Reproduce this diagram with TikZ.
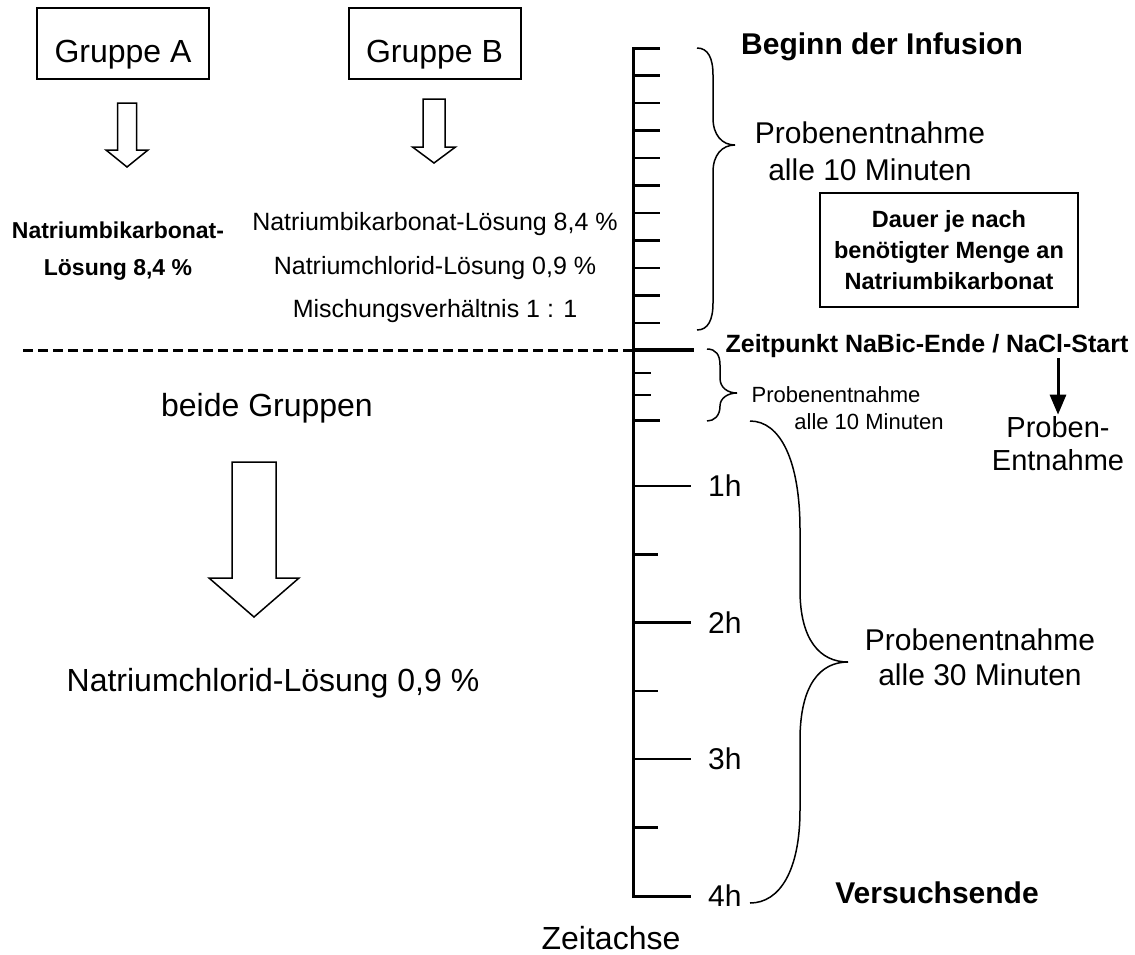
\documentclass[tikz,border=0pt]{standalone}
\usepackage{fontspec}
\setmainfont{Liberation Sans}
\usetikzlibrary{arrows.meta}

\tikzset{
  pics/hohlpfeil/.style args={#1/#2/#3/#4}{code={
    \draw[line width=1.5pt, line join=miter] (-#1,0) -- (#1,0) -- (#1,#3) -- (#2,#3) -- (0,#4) -- (-#2,#3) -- (-#1,#3) -- cycle;}}
}

\begin{document}
\begin{tikzpicture}[x=1pt, y=-1pt,
    gruppe/.style={draw, line width=2pt, minimum width=172pt, minimum height=71pt, text height=37pt, text depth=0pt, inner sep=0pt, font=\fontsize{32}{38}\selectfont},
    kasten/.style={draw, line width=2pt, minimum width=258pt, minimum height=114pt, align=center, inner sep=0pt, font=\bfseries\fontsize{23.5}{31}\selectfont},
    gross/.style={inner sep=0pt, align=center, font=\fontsize{32}{38}\selectfont},
    mittel/.style={inner sep=0pt, align=center, font=\fontsize{30}{36}\selectfont},
    klein/.style={inner sep=0pt, font=\fontsize{22}{26}\selectfont},
    fett/.style={inner sep=0pt, font=\bfseries\fontsize{30}{36}\selectfont},
    achse/.style={line width=3pt, line join=miter},
    strich/.style={line width=2.5pt},
    klammer/.style={line width=1.5pt},
    gestrichelt/.style={line width=3pt, dash pattern=on 10pt off 5pt},
    pfeil/.style={line width=3pt, -{Triangle[width=16pt, length=20pt]}}]
  \useasboundingbox (0,0) rectangle (1135,954);

  \node[gruppe] (grA) at (123,43.5) {Gruppe A};
  \node[gruppe] (grB) at (434.5,43.5) {Gruppe B};
  \pic at (127,103) {hohlpfeil=9.5/21/47/64};
  \pic at (434,99) {hohlpfeil=11/21.5/48/64};
  \node[inner sep=0pt, align=center, font=\bfseries\fontsize{23}{37}\selectfont] (lsgA) at (118,251) {Natriumbikarbonat-\\Lösung 8,4 \%};
  \node[inner sep=0pt, align=center, font=\fontsize{25}{43.5}\selectfont] (lsgB) at (435,268) {Natriumbikarbonat-Lösung 8,4 \%\\Natriumchlorid-Lösung 0,9 \%\\Mischungsverhältnis 1 : 1};

  \draw[achse] (660,48) -- (633,48) coordinate (anfang) -- (633,896) coordinate (ende) -- (691,896);
  \foreach \i in {1,...,10}
    \draw[strich] (633,{48+27.5*\i}) -- ++(27,0);
  \draw[strich, line width=4pt] (633,350) -- (694,350);
  \foreach \y in {373,395}
    \draw[strich, line width=2pt] (633,\y) -- (651,\y);
  \draw[strich, line width=3pt] (633,420) -- (660,420);
  \foreach \y/\n in {486/1, 622.6/2, 759.2/3}
    \draw[strich] (633,\y) -- (691,\y);
  \foreach \y in {554.3, 690.9, 827.5}
    \draw[strich] (633,\y) -- (658,\y);
  \foreach \y/\n in {486/1, 622.6/2, 759.2/3, 896/4}
    \node[mittel, anchor=west] (h\n) at (708,\y) {\n h};

  \coordinate (linie) at (23,350);
  \draw[gestrichelt] (linie) -- (linie -| anfang);

  \node[gross] (beide) at (267,408) {beide Gruppen};
  \pic at (254,462) {hohlpfeil=22/45/116/155};
  \node[gross] (nacl) at (273,683) {Natriumchlorid-Lösung 0,9 \%};
  \node[gross] (zeitachse) at (611,938) {Zeitachse};

  \node[fett] (beginn) at (882,47) {Beginn der Infusion};
  \draw[klammer] (697,48) .. controls (708,48) and (713,58) .. (713,75) -- (713,118)
    .. controls (713,135) and (722,145) .. (735,145) .. controls (722,145) and (713,155) .. (713,172)
    -- (713,303) .. controls (713,320) and (708,330) .. (697,330);
  \node[mittel, font=\fontsize{30}{37}\selectfont] (probe10) at (870,151) {Probenentnahme\\alle 10 Minuten};
  \node[kasten] (dauer) at (949,250) {Dauer je nach\\benötigter Menge an\\Natriumbikarbonat};

  \node[inner sep=0pt, font=\bfseries\fontsize{25}{30}\selectfont] (zeit) at (927,346) {Zeitpunkt NaBic-Ende / NaCl-Start};
  \draw[klammer] (707,349) .. controls (716,349) and (720,355) .. (720,365) -- (720,378)
    .. controls (720,388) and (728,393) .. (737,393) .. controls (728,393) and (720,398) .. (720,406)
    .. controls (720,416) and (714,421) .. (707,421);
  \node[klein] (probeA) at (836,395) {Probenentnahme};
  \node[klein] (probeB) at (869,422) {alle 10 Minuten};
  \node[inner sep=2pt, align=center, font=\fontsize{29}{33}\selectfont] (probe) at (1058,444) {Proben-\\Entnahme};
  \draw[pfeil] (zeit.south -| probe.north) -- (probe.north);

  \draw[klammer] (750,421) .. controls (780,421) and (800,460) .. (800,530) -- (800,590)
    .. controls (800,640) and (820,662) .. (848,662) .. controls (820,662) and (800,685) .. (800,740)
    -- (800,810) .. controls (800,870) and (780,903) .. (750,903);
  \node[mittel, font=\fontsize{30}{35}\selectfont] (probe30) at (980,657) {Probenentnahme\\alle 30 Minuten};
  \node[fett] (ende) at (937,893) {Versuchsende};
\end{tikzpicture}
\end{document}
